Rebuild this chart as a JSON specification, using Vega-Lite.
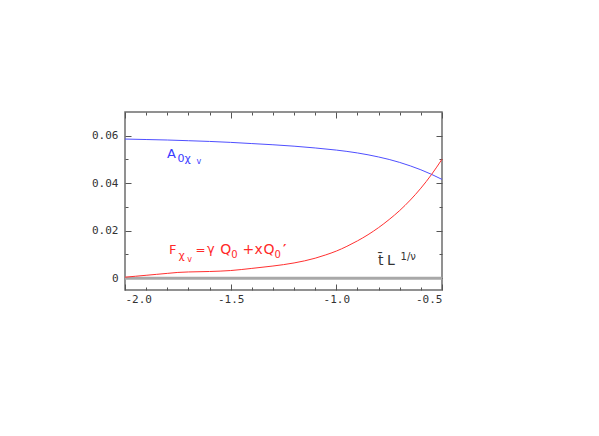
{
  "$schema": "https://vega.github.io/schema/vega-lite/v6.json",
  "width": 317,
  "height": 178,
  "autosize": {"type": "none"},
  "padding": {"left": 125, "top": 112, "right": 157, "bottom": 146},
  "background": "white",
  "config": {
    "view": {"stroke": "#6e6e6e", "strokeWidth": 1.5},
    "axis": {
      "domain": false,
      "grid": false,
      "title": null,
      "tickColor": "#555555",
      "tickWidth": 1,
      "labelFont": "DejaVu Sans Mono",
      "labelFontSize": 11,
      "labelColor": "#333333"
    },
    "text": {"font": "DejaVu Sans"}
  },
  "resolve": {"axis": {"x": "independent", "y": "independent"}},
  "layer": [
    {
      "data": {"values": [{}]},
      "mark": {"type": "rule", "color": "#a8a8a8", "strokeWidth": 3},
      "encoding": {
        "x": {"datum": -2, "type": "quantitative", "scale": {"domain": [-2, -0.5], "nice": false, "zero": false},
          "axis": {"orient": "top", "labels": false,
            "values": [-2,-1.9,-1.8,-1.7,-1.6,-1.5,-1.4,-1.3,-1.2,-1.1,-1,-0.9,-0.8,-0.7,-0.6,-0.5],
            "tickSize": {"condition": {"test": "abs(round(datum.value*10))%5==0", "value": -6}, "value": -3}}},
        "x2": {"datum": -0.5},
        "y": {"datum": 0, "type": "quantitative", "scale": {"domain": [-0.005, 0.07], "nice": false, "zero": false},
          "axis": {"orient": "right", "labels": false,
            "values": [0,0.01,0.02,0.03,0.04,0.05,0.06],
            "tickSize": {"condition": {"test": "round(datum.value*100)%2==0", "value": -6}, "value": -3}}}
      }
    },
    {
      "data": {"values": [
        {"t": -2.0, "v": 0.0586, "s": "A"},
        {"t": -1.9, "v": 0.0584, "s": "A"},
        {"t": -1.8, "v": 0.0582, "s": "A"},
        {"t": -1.7, "v": 0.0579, "s": "A"},
        {"t": -1.6, "v": 0.0576, "s": "A"},
        {"t": -1.5, "v": 0.0572, "s": "A"},
        {"t": -1.4, "v": 0.0567, "s": "A"},
        {"t": -1.3, "v": 0.0562, "s": "A"},
        {"t": -1.2, "v": 0.0556, "s": "A"},
        {"t": -1.1, "v": 0.05485, "s": "A"},
        {"t": -1.0, "v": 0.05395, "s": "A"},
        {"t": -0.9, "v": 0.05275, "s": "A"},
        {"t": -0.8, "v": 0.05105, "s": "A"},
        {"t": -0.75, "v": 0.0500, "s": "A"},
        {"t": -0.7, "v": 0.04875, "s": "A"},
        {"t": -0.65, "v": 0.0473, "s": "A"},
        {"t": -0.6, "v": 0.04565, "s": "A"},
        {"t": -0.55, "v": 0.04375, "s": "A"},
        {"t": -0.5, "v": 0.0416, "s": "A"},
        {"t": -2.0, "v": 0.0004, "s": "F"},
        {"t": -1.95, "v": 0.0008, "s": "F"},
        {"t": -1.9, "v": 0.0012, "s": "F"},
        {"t": -1.85, "v": 0.0016, "s": "F"},
        {"t": -1.8, "v": 0.0020, "s": "F"},
        {"t": -1.75, "v": 0.0024, "s": "F"},
        {"t": -1.7, "v": 0.0026, "s": "F"},
        {"t": -1.6, "v": 0.0028, "s": "F"},
        {"t": -1.5, "v": 0.0032, "s": "F"},
        {"t": -1.4, "v": 0.0041, "s": "F"},
        {"t": -1.3, "v": 0.0051, "s": "F"},
        {"t": -1.2, "v": 0.0064, "s": "F"},
        {"t": -1.1, "v": 0.0084, "s": "F"},
        {"t": -1.05, "v": 0.0098, "s": "F"},
        {"t": -1.0, "v": 0.0114, "s": "F"},
        {"t": -0.95, "v": 0.0134, "s": "F"},
        {"t": -0.9, "v": 0.0157, "s": "F"},
        {"t": -0.85, "v": 0.0183, "s": "F"},
        {"t": -0.8, "v": 0.0213, "s": "F"},
        {"t": -0.75, "v": 0.0247, "s": "F"},
        {"t": -0.7, "v": 0.0285, "s": "F"},
        {"t": -0.65, "v": 0.0329, "s": "F"},
        {"t": -0.6, "v": 0.0379, "s": "F"},
        {"t": -0.55, "v": 0.0436, "s": "F"},
        {"t": -0.5, "v": 0.0501, "s": "F"}
      ]},
      "mark": {"type": "line", "strokeWidth": 1, "interpolate": "monotone"},
      "encoding": {
        "x": {"field": "t", "type": "quantitative",
          "axis": {"orient": "bottom", "labelPadding": 9, "labelBaseline": "top",
            "values": [-2,-1.9,-1.8,-1.7,-1.6,-1.5,-1.4,-1.3,-1.2,-1.1,-1,-0.9,-0.8,-0.7,-0.6,-0.5],
            "labelExpr": "abs(round(datum.value*10))%5==0 ? replace(format(datum.value, '.1f'), '\u2212', '-') : ''",
            "tickSize": {"condition": {"test": "abs(round(datum.value*10))%5==0", "value": -6}, "value": -3}}},
        "y": {"field": "v", "type": "quantitative",
          "axis": {"orient": "left", "labelPadding": 13,
            "values": [0,0.01,0.02,0.03,0.04,0.05,0.06],
            "labelExpr": "datum.value==0 ? '0' : (round(datum.value*100)%2==0 ? format(datum.value, '.2f') : '')",
            "tickSize": {"condition": {"test": "round(datum.value*100)%2==0", "value": -6}, "value": -3}}},
        "color": {"field": "s", "type": "nominal", "legend": null,
          "scale": {"domain": ["A", "F"], "range": ["#4f4fff", "#ff3030"]}},
        "detail": {"field": "s"}
      }
    },
    {"data": {"values": [{}]}, "mark": {"type": "text", "align": "left", "baseline": "alphabetic", "color": "#3a3aff", "fontSize": 13},
     "encoding": {"x": {"datum": -1.801, "axis": null}, "y": {"datum": 0.0506, "axis": null}, "text": {"value": "A"}}},
    {"data": {"values": [{}]}, "mark": {"type": "text", "align": "left", "baseline": "alphabetic", "color": "#3a3aff", "fontSize": 11},
     "encoding": {"x": {"datum": -1.752, "axis": null}, "y": {"datum": 0.0489, "axis": null}, "text": {"value": "0χ"}}},
    {"data": {"values": [{}]}, "mark": {"type": "text", "align": "left", "baseline": "alphabetic", "color": "#3a3aff", "fontSize": 8},
     "encoding": {"x": {"datum": -1.662, "axis": null}, "y": {"datum": 0.0481, "axis": null}, "text": {"value": "v"}}},

    {"data": {"values": [{}]}, "mark": {"type": "text", "align": "left", "baseline": "alphabetic", "color": "#ff2a2a", "fontSize": 13},
     "encoding": {"x": {"datum": -1.792, "axis": null}, "y": {"datum": 0.0102, "axis": null}, "text": {"value": "F"}}},
    {"data": {"values": [{}]}, "mark": {"type": "text", "align": "left", "baseline": "alphabetic", "color": "#ff2a2a", "fontSize": 11},
     "encoding": {"x": {"datum": -1.747, "axis": null}, "y": {"datum": 0.0081, "axis": null}, "text": {"value": "χ"}}},
    {"data": {"values": [{}]}, "mark": {"type": "text", "align": "left", "baseline": "alphabetic", "color": "#ff2a2a", "fontSize": 8},
     "encoding": {"x": {"datum": -1.705, "axis": null}, "y": {"datum": 0.0068, "axis": null}, "text": {"value": "v"}}},
    {"data": {"values": [{}]}, "mark": {"type": "text", "align": "left", "baseline": "alphabetic", "color": "#ff2a2a", "fontSize": 12},
     "encoding": {"x": {"datum": -1.666, "axis": null}, "y": {"datum": 0.0102, "axis": null}, "text": {"value": "="}}},
    {"data": {"values": [{}]}, "mark": {"type": "text", "align": "left", "baseline": "alphabetic", "color": "#ff2a2a", "fontSize": 13},
     "encoding": {"x": {"datum": -1.612, "axis": null}, "y": {"datum": 0.0106, "axis": null}, "text": {"value": "γ"}}},
    {"data": {"values": [{}]}, "mark": {"type": "text", "align": "left", "baseline": "alphabetic", "color": "#ff2a2a", "fontSize": 14},
     "encoding": {"x": {"datum": -1.549, "axis": null}, "y": {"datum": 0.0102, "axis": null}, "text": {"value": "Q"}}},
    {"data": {"values": [{}]}, "mark": {"type": "text", "align": "left", "baseline": "alphabetic", "color": "#ff2a2a", "fontSize": 10},
     "encoding": {"x": {"datum": -1.497, "axis": null}, "y": {"datum": 0.0085, "axis": null}, "text": {"value": "0"}}},
    {"data": {"values": [{}]}, "mark": {"type": "text", "align": "left", "baseline": "alphabetic", "color": "#ff2a2a", "fontSize": 14},
     "encoding": {"x": {"datum": -1.444, "axis": null}, "y": {"datum": 0.0102, "axis": null}, "text": {"value": "+"}}},
    {"data": {"values": [{}]}, "mark": {"type": "text", "align": "left", "baseline": "alphabetic", "color": "#ff2a2a", "fontSize": 14},
     "encoding": {"x": {"datum": -1.387, "axis": null}, "y": {"datum": 0.0102, "axis": null}, "text": {"value": "x"}}},
    {"data": {"values": [{}]}, "mark": {"type": "text", "align": "left", "baseline": "alphabetic", "color": "#ff2a2a", "fontSize": 14},
     "encoding": {"x": {"datum": -1.345, "axis": null}, "y": {"datum": 0.0102, "axis": null}, "text": {"value": "Q"}}},
    {"data": {"values": [{}]}, "mark": {"type": "text", "align": "left", "baseline": "alphabetic", "color": "#ff2a2a", "fontSize": 10},
     "encoding": {"x": {"datum": -1.292, "axis": null}, "y": {"datum": 0.0085, "axis": null}, "text": {"value": "0"}}},
    {"data": {"values": [{}]}, "mark": {"type": "text", "align": "left", "baseline": "alphabetic", "color": "#ff2a2a", "fontSize": 13, "fontWeight": "bold"},
     "encoding": {"x": {"datum": -1.252, "axis": null}, "y": {"datum": 0.0106, "axis": null}, "text": {"value": "′"}}},

    {"data": {"values": [{}]}, "mark": {"type": "text", "align": "left", "baseline": "alphabetic", "color": "#333333", "fontSize": 14},
     "encoding": {"x": {"datum": -0.803, "axis": null}, "y": {"datum": 0.0055, "axis": null}, "text": {"value": "t̄"}}},
    {"data": {"values": [{}]}, "mark": {"type": "text", "align": "left", "baseline": "alphabetic", "color": "#333333", "fontSize": 14},
     "encoding": {"x": {"datum": -0.760, "axis": null}, "y": {"datum": 0.0055, "axis": null}, "text": {"value": "L"}}},
    {"data": {"values": [{}]}, "mark": {"type": "text", "align": "left", "baseline": "alphabetic", "color": "#333333", "fontSize": 10},
     "encoding": {"x": {"datum": -0.696, "axis": null}, "y": {"datum": 0.0078, "axis": null}, "text": {"value": "1/ν"}}}
  ]
}
